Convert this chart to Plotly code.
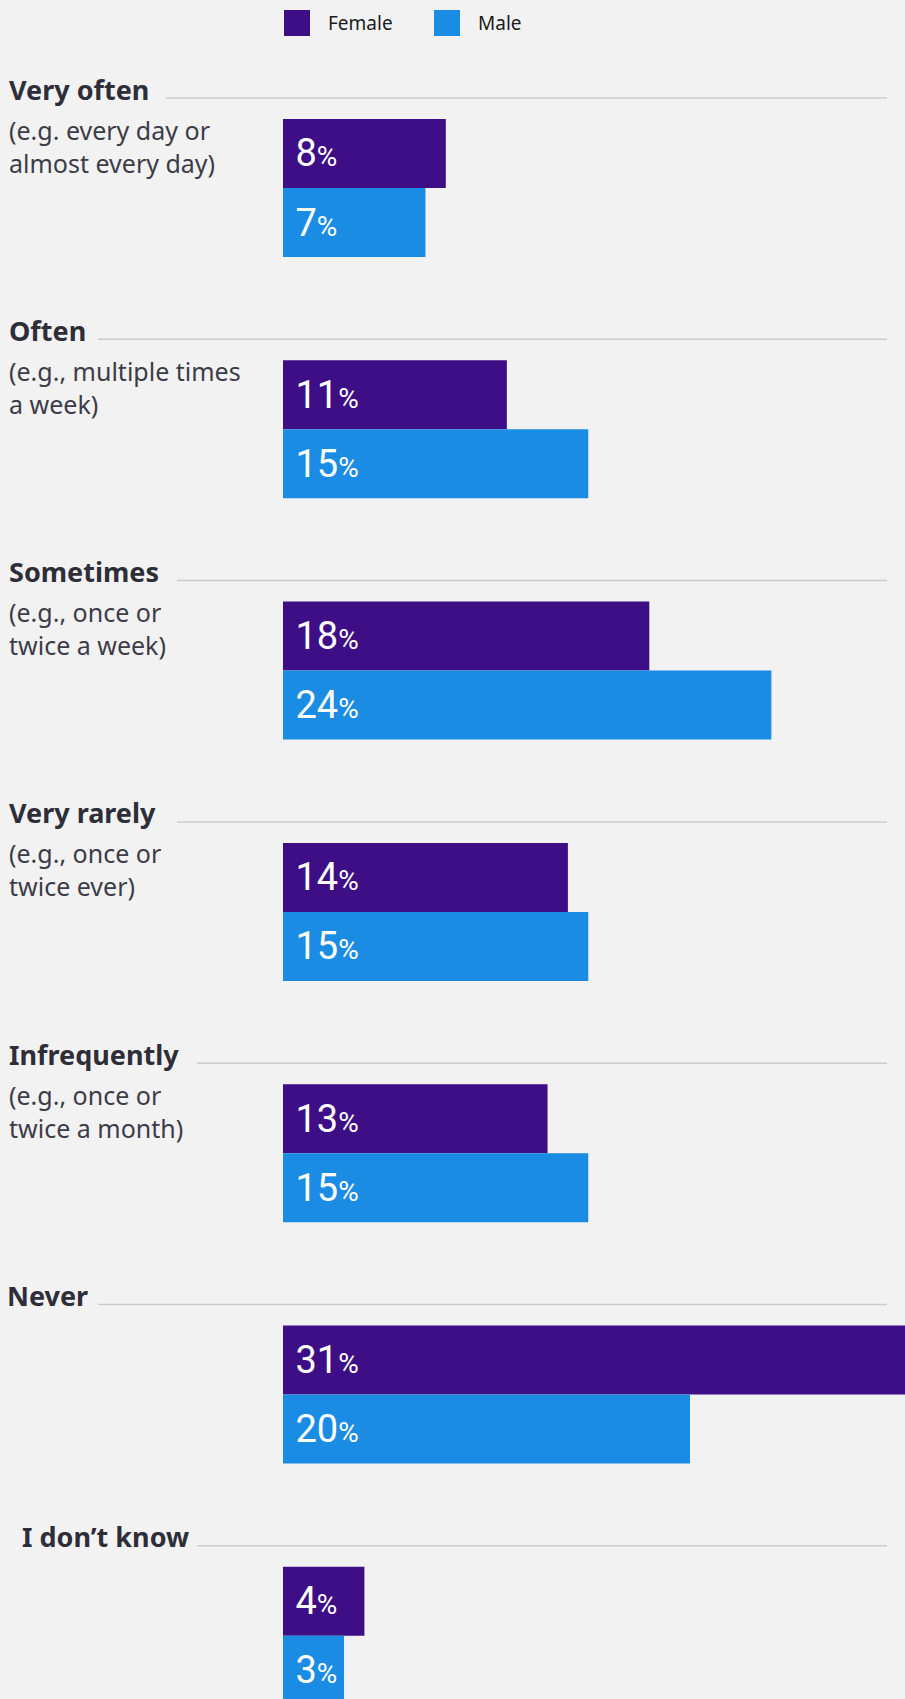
import plotly.graph_objects as go

# ---- data ----
categories = ["Very often", "Often", "Sometimes", "Very rarely", "Infrequently", "Never", "I don\u2019t know"]
subtitles = ["(e.g. every day or<br>almost every day)",
             "(e.g., multiple times<br>a week)",
             "(e.g., once or<br>twice a week)",
             "(e.g., once or<br>twice ever)",
             "(e.g., once or<br>twice a month)",
             "",
             ""]
female = [8, 11, 18, 14, 13, 31, 4]
male = [7, 15, 24, 15, 15, 20, 3]
series_names = ["Female", "Male"]
series_colors = ["#3D0E85", "#1B8CE4"]

# ---- layout constants ----
W, H = 905, 1699
BG = "#F2F2F2"
bar_left_px = 283
px_per_pct = 20.35
first_center_px = 188
slot_px = 241.3
title_x_px = [8, 8, 8, 8, 8, 6, 21]
rule_start_px = [166, 98, 177, 177, 197, 98, 197]
rule_end_px = 887

top_val = -first_center_px / slot_px
bottom_val = top_val + H / slot_px

fig = go.Figure()
for name, vals, col in zip(series_names, [female, male], series_colors):
    fig.add_trace(go.Bar(
        y=categories, x=vals, orientation="h", name=name,
        marker=dict(color=col, line=dict(width=0)),
        texttemplate="&nbsp;%{x}<span style='font-size:28px'>%</span>",
        textposition="inside", insidetextanchor="start", textangle=0,
        constraintext="none",
        textfont=dict(family="Roboto", size=38, color="white"),
        showlegend=False, hoverinfo="skip",
    ))

annotations = []
shapes = []
for i, (cat, sub) in enumerate(zip(categories, subtitles)):
    annotations.append(dict(
        text=cat, xref="paper", x=0, xshift=title_x_px[i] - 1, xanchor="left",
        yref="y", y=cat, yshift=99, yanchor="middle", showarrow=False,
        font=dict(family="Noto Sans", size=27, color="#2E2E38", weight="bold"),
    ))
    if sub:
        annotations.append(dict(
            text=sub, xref="paper", x=0, xshift=7, xanchor="left", align="left",
            yref="y", y=cat, yshift=42, yanchor="middle", showarrow=False,
            font=dict(family="Noto Sans", size=25, color="#3C3C48"),
        ))
    ry = i - 90 / slot_px
    shapes.append(dict(
        type="line", xref="paper", yref="y",
        x0=rule_start_px[i] / W, x1=rule_end_px / W, y0=ry, y1=ry,
        line=dict(color="#CACAD2", width=1.5), layer="below",
    ))

# manual legend (large square swatches)
legend_x = [284, 434]
for name, col, lx in zip(series_names, series_colors, legend_x):
    shapes.append(dict(
        type="rect", xref="paper", yref="paper",
        x0=lx / W, x1=(lx + 26) / W, y0=1 - 36 / H, y1=1 - 10 / H,
        fillcolor=col, line=dict(width=0),
    ))
    annotations.append(dict(
        text=name, xref="paper", x=(lx + 42) / W, xanchor="left",
        yref="paper", y=1 - 23 / H, yanchor="middle", showarrow=False,
        font=dict(family="Noto Sans", size=19, color="#1A1A1A"),
    ))

fig.update_layout(
    width=W, height=H,
    margin=dict(l=0, r=0, t=0, b=0),
    paper_bgcolor=BG, plot_bgcolor=BG,
    barmode="group", bargap=0.428, bargroupgap=0,
    xaxis=dict(domain=[bar_left_px / W, 1], range=[0, (W - bar_left_px) / px_per_pct],
               showgrid=False, zeroline=False, showticklabels=False, fixedrange=True),
    yaxis=dict(type="category", categoryorder="array", categoryarray=categories,
               range=[bottom_val, top_val], showgrid=False, zeroline=False,
               showticklabels=False, fixedrange=True),
    annotations=annotations, shapes=shapes,
    showlegend=False,
)

fig.write_html("out.html", config={"displayModeBar": False},
               post_script="document.body.style.margin='0';document.body.style.background='#F2F2F2';")
